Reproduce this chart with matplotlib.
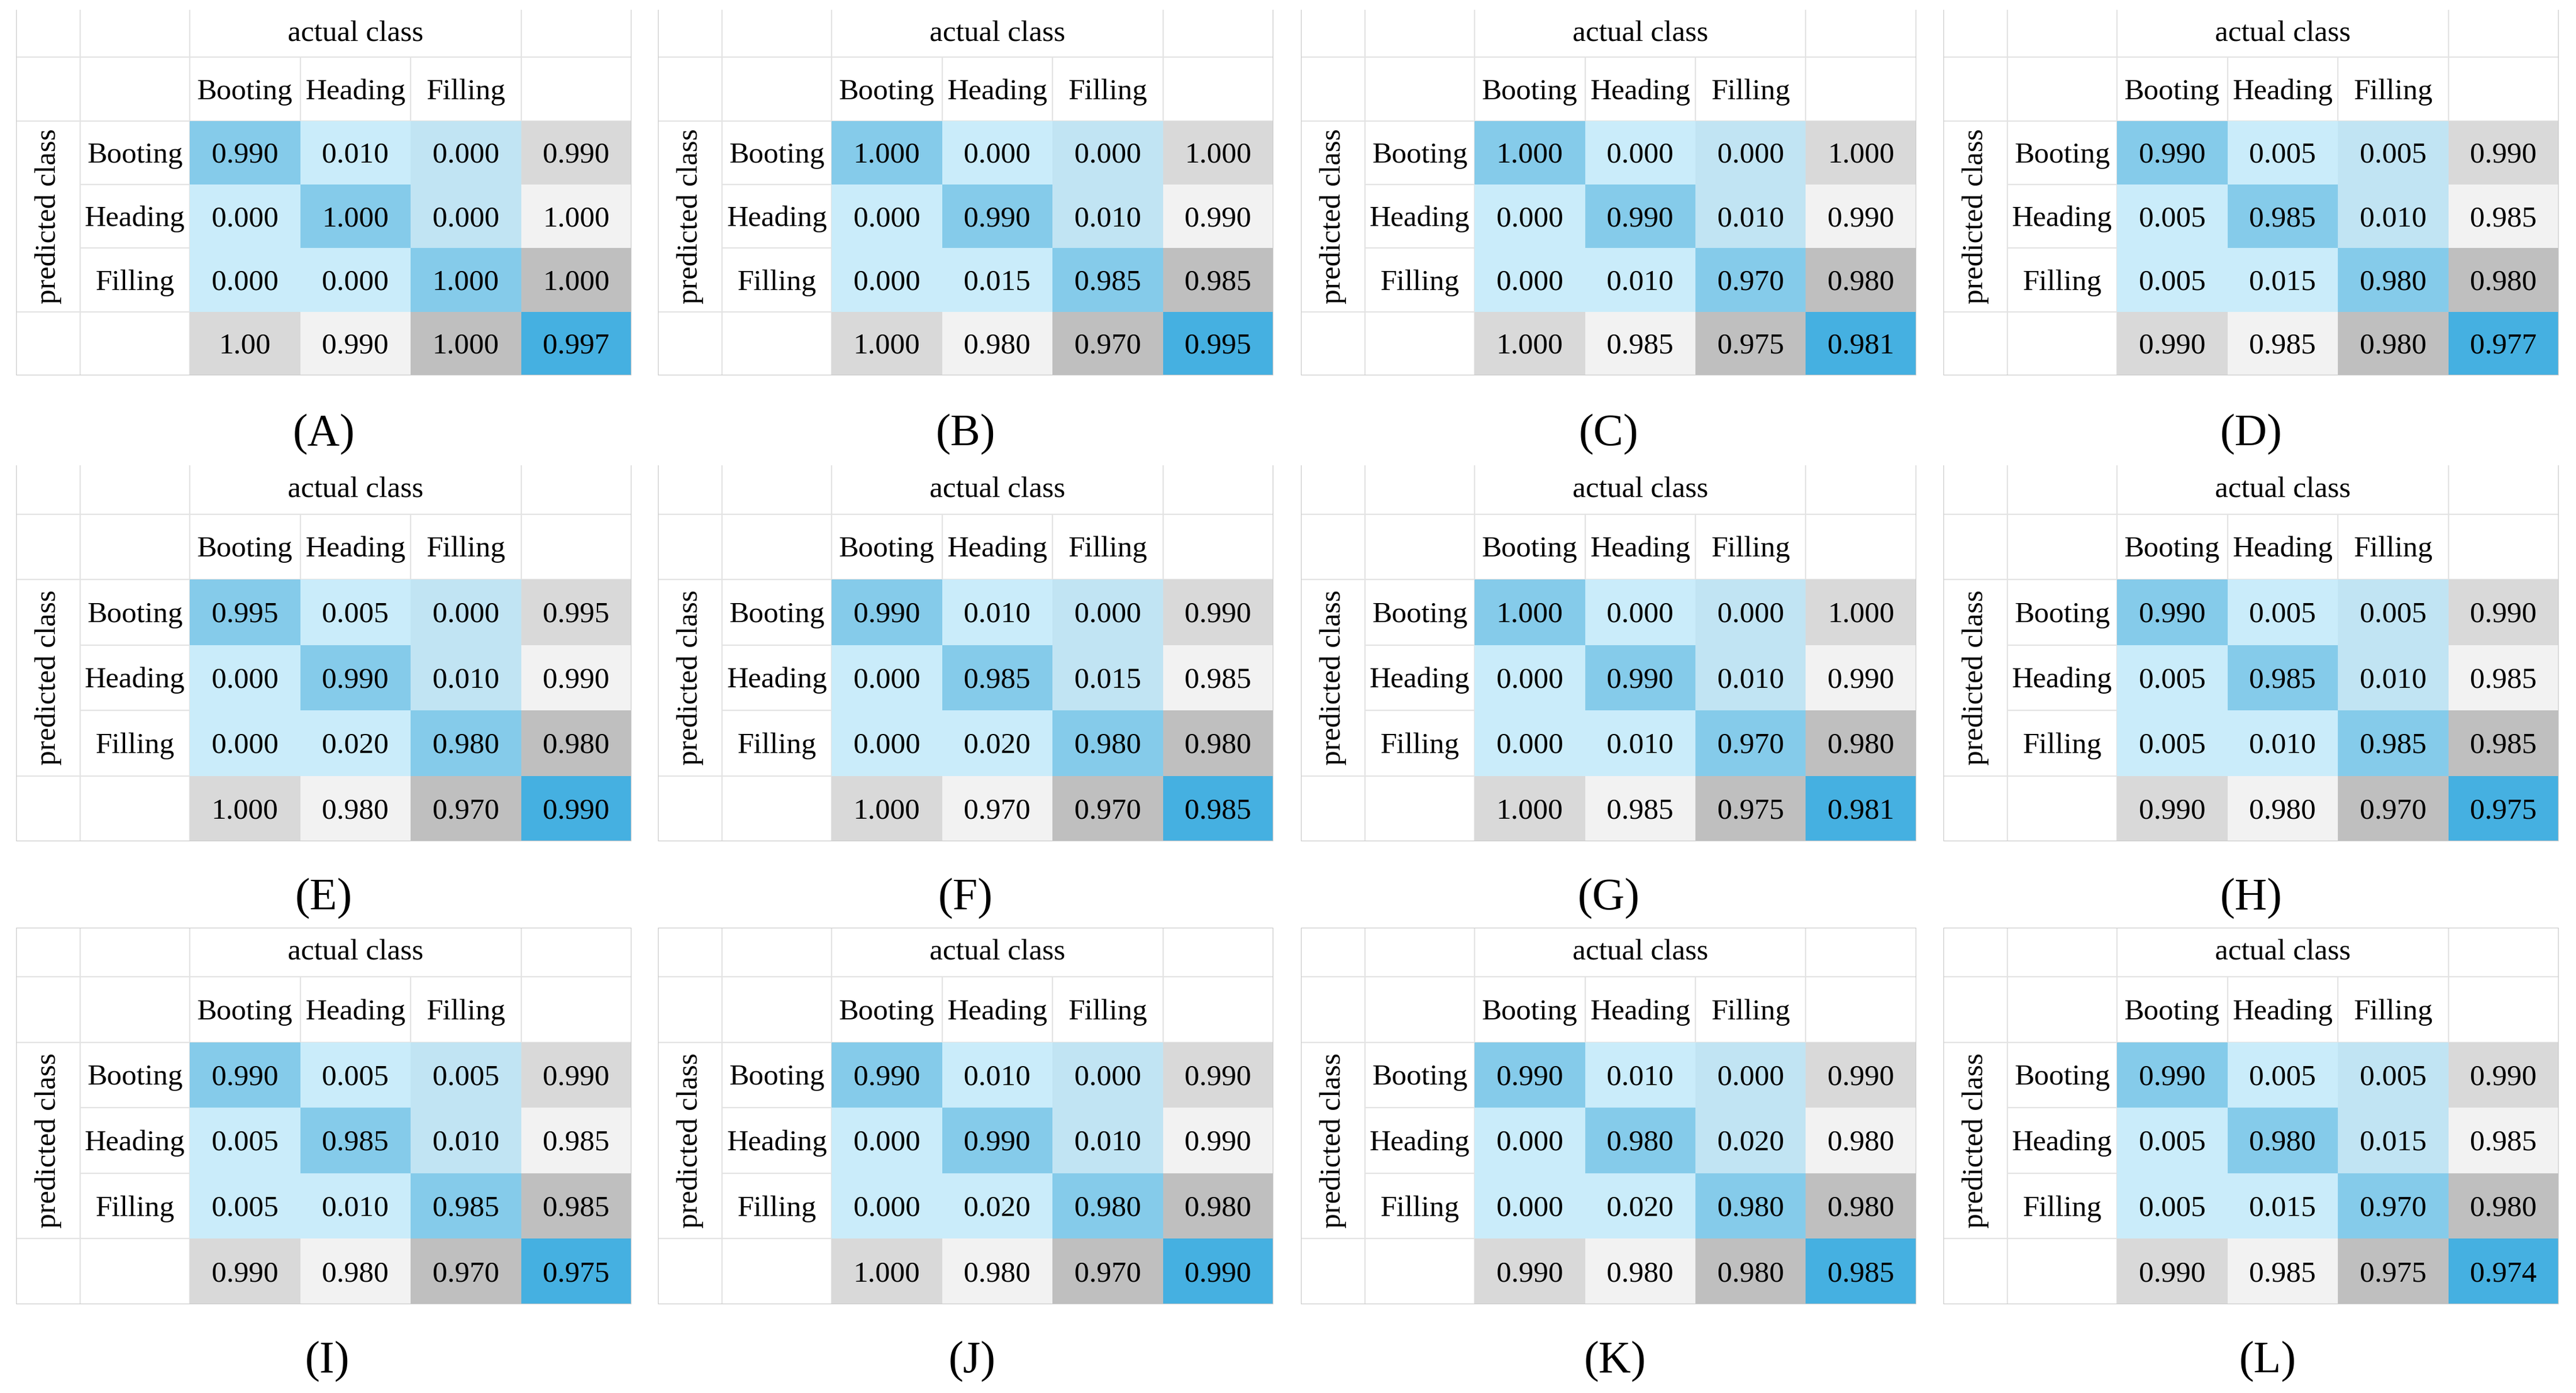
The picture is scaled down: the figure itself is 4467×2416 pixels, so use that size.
import matplotlib
matplotlib.use('Agg')
import matplotlib.pyplot as plt
from matplotlib.colors import ListedColormap
import numpy as np

plt.rcParams['font.family'] = ['Liberation Serif', 'DejaVu Serif']

classes = ['Booting', 'Heading', 'Filling']
panel_names = ['(A)', '(B)', '(C)', '(D)', '(E)', '(F)', '(G)', '(H)', '(I)', '(J)', '(K)', '(L)']

# each panel: 3 rows of [Booting, Heading, Filling, row total] + bottom row
A = [['0.990', '0.010', '0.000', '0.990'],
     ['0.000', '1.000', '0.000', '1.000'],
     ['0.000', '0.000', '1.000', '1.000'],
     ['1.00', '0.990', '1.000', '0.997']]
B = [['1.000', '0.000', '0.000', '1.000'],
     ['0.000', '0.990', '0.010', '0.990'],
     ['0.000', '0.015', '0.985', '0.985'],
     ['1.000', '0.980', '0.970', '0.995']]
C = [['1.000', '0.000', '0.000', '1.000'],
     ['0.000', '0.990', '0.010', '0.990'],
     ['0.000', '0.010', '0.970', '0.980'],
     ['1.000', '0.985', '0.975', '0.981']]
D = [['0.990', '0.005', '0.005', '0.990'],
     ['0.005', '0.985', '0.010', '0.985'],
     ['0.005', '0.015', '0.980', '0.980'],
     ['0.990', '0.985', '0.980', '0.977']]
E = [['0.995', '0.005', '0.000', '0.995'],
     ['0.000', '0.990', '0.010', '0.990'],
     ['0.000', '0.020', '0.980', '0.980'],
     ['1.000', '0.980', '0.970', '0.990']]
F = [['0.990', '0.010', '0.000', '0.990'],
     ['0.000', '0.985', '0.015', '0.985'],
     ['0.000', '0.020', '0.980', '0.980'],
     ['1.000', '0.970', '0.970', '0.985']]
G = [['1.000', '0.000', '0.000', '1.000'],
     ['0.000', '0.990', '0.010', '0.990'],
     ['0.000', '0.010', '0.970', '0.980'],
     ['1.000', '0.985', '0.975', '0.981']]
H = [['0.990', '0.005', '0.005', '0.990'],
     ['0.005', '0.985', '0.010', '0.985'],
     ['0.005', '0.010', '0.985', '0.985'],
     ['0.990', '0.980', '0.970', '0.975']]
I = [['0.990', '0.005', '0.005', '0.990'],
     ['0.005', '0.985', '0.010', '0.985'],
     ['0.005', '0.010', '0.985', '0.985'],
     ['0.990', '0.980', '0.970', '0.975']]
J = [['0.990', '0.010', '0.000', '0.990'],
     ['0.000', '0.990', '0.010', '0.990'],
     ['0.000', '0.020', '0.980', '0.980'],
     ['1.000', '0.980', '0.970', '0.990']]
K = [['0.990', '0.010', '0.000', '0.990'],
     ['0.000', '0.980', '0.020', '0.980'],
     ['0.000', '0.020', '0.980', '0.980'],
     ['0.990', '0.980', '0.980', '0.985']]
L = [['0.990', '0.005', '0.005', '0.990'],
     ['0.005', '0.980', '0.015', '0.985'],
     ['0.005', '0.015', '0.970', '0.980'],
     ['0.990', '0.985', '0.975', '0.974']]
panels = [A, B, C, D, E, F, G, H, I, J, K, L]

# cell colours: diag, off-diag, off-diag in last class column, greys, corner
cmap = ListedColormap(['#85CBEA', '#CAECFA', '#C1E4F3', '#D9D9D9', '#F2F2F2', '#BFBFBF', '#45B0E1'])
code = np.zeros((4, 4))
for r in range(3):
    for c in range(3):
        if r == c:
            code[r, c] = 0
        elif c == 2:
            code[r, c] = 2
        else:
            code[r, c] = 1
greys = [3, 4, 5]
for k in range(3):
    code[k, 3] = greys[k]
    code[3, k] = greys[k]
code[3, 3] = 6

W, Hpx = 4467, 2416
fig = plt.figure(figsize=(W / 100, Hpx / 100), dpi=100)
fig.patch.set_facecolor('white')

lefts = [28, 1141, 2256, 3370]
pw = 1067
tops = [17, 807, 1609]
heights = [634, 652, 653]
label_y = [754, 1559, 2362]
# the bottom row of captions sits a little to the right
label_dx = [[0, 0, 0, 0], [0, 0, 0, 0], [6, 11, 11, 29]]

colw = np.array([111, 190, 191.5, 191.5, 191.5, 191.5])
rowh = np.array([0.13, 0.174, 0.174, 0.174, 0.174, 0.174])
xe = np.concatenate([[0], np.cumsum(colw)])
ye = np.concatenate([[0], np.cumsum(rowh)])

fs = 37
inner = '#E3E3E3'
outer = '#C8C8C8'
lw = 1.6

for i, data in enumerate(panels):
    pr, pc = divmod(i, 4)
    left = lefts[pc]
    top = tops[pr]
    h = heights[pr]
    ax = fig.add_axes([left / W, 1 - (top + h) / Hpx, pw / W, h / Hpx])
    ax.set_xlim(xe[0], xe[-1])
    ax.set_ylim(ye[-1], ye[0])
    ax.axis('off')

    # grid lines (under the coloured cells)
    ax.hlines(ye[1], xe[0], xe[-1], color=inner, lw=lw, zorder=1)
    ax.hlines(ye[2], xe[0], xe[-1], color=inner, lw=lw, zorder=1)
    for k in (3, 4):
        ax.hlines(ye[k], xe[1], xe[-1], color=inner, lw=lw, zorder=1)
    ax.hlines(ye[5], xe[0], xe[-1], color=inner, lw=lw, zorder=1)
    for k in (1, 2, 5):
        ax.vlines(xe[k], ye[0], ye[-1], color=inner, lw=lw, zorder=1)
    for k in (3, 4):
        ax.vlines(xe[k], ye[1], ye[-1], color=inner, lw=lw, zorder=1)
    ax.vlines([xe[0], xe[-1]], ye[0], ye[-1], color=outer, lw=lw, zorder=3)
    ax.hlines(ye[-1], xe[0], xe[-1], color=outer, lw=lw, zorder=3)
    if pr == 2:
        ax.hlines(ye[0], xe[0], xe[-1], color=outer, lw=lw, zorder=3)

    ax.pcolormesh(xe[2:], ye[2:], code, cmap=cmap, vmin=-0.5, vmax=6.5,
                  shading='flat', zorder=2, edgecolors='none')

    # baseline shift so that capitals sit centred in each cell
    cap = 0.662 * fs * 100 / 72 / 2 / h
    xc = (xe[:-1] + xe[1:]) / 2
    yc = (ye[:-1] + ye[1:]) / 2 + cap
    ax.text(xc[3], yc[0] - 0.006, 'actual class', ha='center', va='baseline', fontsize=fs, zorder=4)
    ax.text(xc[0], (ye[2] + ye[5]) / 2, 'predicted class', ha='center', va='center',
            rotation=90, fontsize=fs, zorder=4)
    for k, name in enumerate(classes):
        ax.text(xc[2 + k], yc[1], name, ha='center', va='baseline', fontsize=fs, zorder=4)
        ax.text(xc[1], yc[2 + k], name, ha='center', va='baseline', fontsize=fs, zorder=4)
    for r in range(4):
        for c in range(4):
            ax.text(xc[2 + c], yc[2 + r], data[r][c], ha='center', va='baseline',
                    fontsize=fs, zorder=4)

    fig.text((left + pw / 2 + label_dx[pr][pc]) / W, 1 - label_y[pr] / Hpx, panel_names[i],
             ha='center', va='center', fontsize=56)

fig.savefig('out.png', dpi=100, facecolor='white')
